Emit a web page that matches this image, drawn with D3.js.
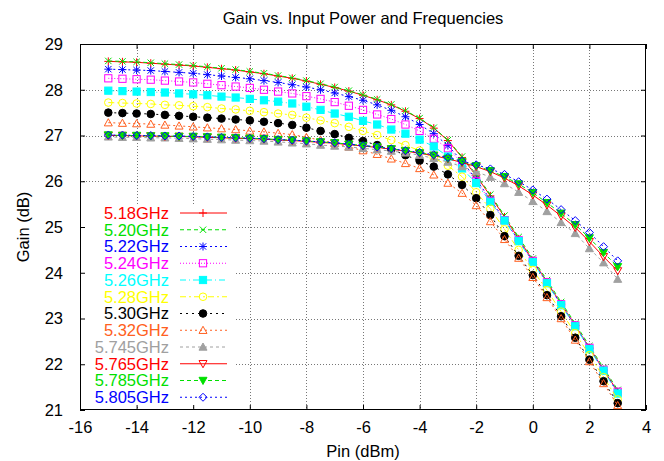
<!DOCTYPE html>
<html>
<head>
<meta charset="utf-8">
<style>
  body { margin: 0; background: #fff; }
  svg text { font-family: "Liberation Sans", Arial, Helvetica, sans-serif; }
</style>
</head>
<body>
<svg id="chart" width="664" height="461"></svg>
<script src="https://d3js.org/d3.v7.min.js"></script>
<script>
// Input power (dBm)
const pin = [-15, -14.5, -14, -13.5, -13, -12.5, -12, -11.5, -11, -10.5, -10, -9.5, -9, -8.5, -8, -7.5, -7, -6.5, -6, -5.5, -5, -4.5, -4, -3.5, -3, -2.5, -2, -1.5, -1, -0.5, 0, 0.5, 1, 1.5, 2, 2.5, 3];

// Gain (dB) per frequency
const g518 = [28.62, 28.61, 28.60, 28.58, 28.56, 28.54, 28.52, 28.49, 28.46, 28.43, 28.39, 28.35, 28.30, 28.25, 28.19, 28.12, 28.05, 27.97, 27.88, 27.78, 27.67, 27.53, 27.37, 27.16, 26.89, 26.52, 26.12, 25.68, 25.22, 24.74, 24.27, 23.80, 23.32, 22.85, 22.36, 21.88, 21.40];
const g520 = [28.63, 28.62, 28.61, 28.59, 28.57, 28.55, 28.53, 28.50, 28.47, 28.44, 28.40, 28.36, 28.31, 28.26, 28.20, 28.13, 28.06, 27.98, 27.89, 27.79, 27.68, 27.54, 27.38, 27.17, 26.90, 26.54, 26.15, 25.71, 25.25, 24.78, 24.31, 23.84, 23.36, 22.89, 22.40, 21.92, 21.44];
const g522 = [28.45, 28.44, 28.43, 28.42, 28.40, 28.38, 28.36, 28.33, 28.30, 28.27, 28.24, 28.20, 28.16, 28.11, 28.06, 28.00, 27.93, 27.85, 27.77, 27.67, 27.55, 27.41, 27.24, 27.04, 26.78, 26.44, 26.04, 25.60, 25.16, 24.70, 24.25, 23.78, 23.30, 22.84, 22.34, 21.87, 21.38];
const g524 = [28.25, 28.24, 28.23, 28.22, 28.20, 28.18, 28.16, 28.13, 28.10, 28.07, 28.04, 28.00, 27.96, 27.92, 27.86, 27.80, 27.73, 27.65, 27.56, 27.46, 27.36, 27.24, 27.10, 26.93, 26.72, 26.40, 26.00, 25.57, 25.15, 24.71, 24.26, 23.79, 23.31, 22.85, 22.36, 21.88, 21.40];
const g526 = [27.98, 27.97, 27.96, 27.95, 27.94, 27.92, 27.90, 27.88, 27.85, 27.83, 27.80, 27.77, 27.74, 27.70, 27.63, 27.56, 27.48, 27.41, 27.32, 27.24, 27.13, 27.04, 26.91, 26.76, 26.54, 26.28, 25.96, 25.55, 25.14, 24.69, 24.23, 23.77, 23.29, 22.83, 22.33, 21.86, 21.36];
const g528 = [27.72, 27.71, 27.70, 27.69, 27.67, 27.66, 27.64, 27.62, 27.59, 27.57, 27.54, 27.51, 27.48, 27.45, 27.39, 27.33, 27.27, 27.19, 27.10, 27.01, 26.90, 26.79, 26.67, 26.51, 26.34, 26.10, 25.76, 25.40, 24.95, 24.50, 24.06, 23.62, 23.15, 22.68, 22.20, 21.72, 21.23];
const g530 = [27.50, 27.49, 27.48, 27.47, 27.45, 27.43, 27.41, 27.39, 27.37, 27.35, 27.33, 27.30, 27.27, 27.23, 27.17, 27.10, 27.03, 26.95, 26.88, 26.79, 26.70, 26.57, 26.45, 26.32, 26.15, 25.92, 25.63, 25.26, 24.80, 24.37, 23.95, 23.51, 23.05, 22.58, 22.10, 21.63, 21.15];
const g532 = [27.28, 27.27, 27.26, 27.25, 27.23, 27.21, 27.19, 27.17, 27.15, 27.13, 27.10, 27.08, 27.05, 27.02, 26.96, 26.90, 26.83, 26.75, 26.67, 26.59, 26.49, 26.39, 26.28, 26.14, 25.96, 25.74, 25.47, 25.12, 24.73, 24.32, 23.90, 23.46, 23.00, 22.53, 22.06, 21.58, 21.10];
const g5745 = [26.97, 26.96, 26.96, 26.95, 26.95, 26.94, 26.93, 26.92, 26.91, 26.90, 26.89, 26.88, 26.86, 26.84, 26.82, 26.79, 26.77, 26.75, 26.72, 26.69, 26.66, 26.62, 26.57, 26.50, 26.42, 26.32, 26.21, 26.09, 25.95, 25.76, 25.56, 25.34, 25.10, 24.86, 24.53, 24.22, 23.86];
const g5765 = [27.00, 27.00, 26.99, 26.99, 26.98, 26.98, 26.97, 26.96, 26.95, 26.94, 26.93, 26.92, 26.90, 26.89, 26.87, 26.85, 26.83, 26.80, 26.77, 26.74, 26.70, 26.66, 26.61, 26.56, 26.49, 26.41, 26.32, 26.21, 26.07, 25.90, 25.70, 25.48, 25.24, 24.99, 24.68, 24.35, 24.04];
const g5785 = [27.01, 27.00, 27.00, 26.99, 26.99, 26.98, 26.98, 26.97, 26.96, 26.95, 26.94, 26.93, 26.91, 26.90, 26.88, 26.86, 26.84, 26.81, 26.78, 26.75, 26.71, 26.67, 26.62, 26.57, 26.50, 26.43, 26.34, 26.23, 26.10, 25.94, 25.75, 25.53, 25.30, 25.05, 24.76, 24.44, 24.13];
const g5805 = [27.01, 27.01, 27.00, 27.00, 26.99, 26.99, 26.98, 26.97, 26.96, 26.95, 26.94, 26.93, 26.91, 26.90, 26.88, 26.86, 26.84, 26.81, 26.78, 26.75, 26.71, 26.67, 26.63, 26.58, 26.52, 26.44, 26.36, 26.27, 26.15, 25.99, 25.81, 25.61, 25.38, 25.14, 24.88, 24.57, 24.26];

const names = ["5.18GHz", "5.20GHz", "5.22GHz", "5.24GHz", "5.26GHz", "5.28GHz", "5.30GHz", "5.32GHz", "5.745GHz", "5.765GHz", "5.785GHz", "5.805GHz"];
const gains = [g518, g520, g522, g524, g526, g528, g530, g532, g5745, g5765, g5785, g5805];

const xTicks = [-16, -14, -12, -10, -8, -6, -4, -2, 0, 2, 4];
const yTicks = [21, 22, 23, 24, 25, 26, 27, 28, 29];

// gnuplot-like styles, one per series
const colors = ["#ff0000", "#00e000", "#0000ff", "#ff00ff", "#00ffff", "#ffff00", "#000000", "#ff6020", "#a0a0a0", "#ff0000", "#00e000", "#0000ff"];
const dashes = [null, "4,3", "2,3", "1,2", "6,3,1,3", "6,3,2,3", "2,4", "2,3", "3,3", null, "4,3", "2,3"];
const markers = ["plus", "cross", "star", "box", "boxF", "circle", "circleF", "tri", "triF", "itri", "itriF", "diamond"];

const svg = d3.select("#chart");
const x = d3.scaleLinear().domain([-16, 4]).range([80, 646]);
const y = d3.scaleLinear().domain([21, 29]).range([410, 44]);
const fmt = d => String(d); // plain hyphen minus, like the original
const fs = 16.5;

// grid
const grid = svg.append("g").attr("stroke", "#777").attr("stroke-dasharray", "1,2").attr("stroke-width", 1);
grid.selectAll(".gx").data(xTicks.slice(1, -1)).join("line")
  .attr("class", "gx")
  .attr("x1", d => Math.round(x(d)) + 0.5).attr("x2", d => Math.round(x(d)) + 0.5)
  .attr("y1", y(29)).attr("y2", y(21));
grid.selectAll(".gy").data(yTicks.slice(1, -1)).join("line")
  .attr("class", "gy")
  .attr("y1", d => Math.round(y(d)) + 0.5).attr("y2", d => Math.round(y(d)) + 0.5)
  .attr("x1", x(-16)).attr("x2", x(4));

// white key background (covers grid)
svg.append("rect").attr("x", 81).attr("y", 204).attr("width", 153).attr("height", 201).attr("fill", "#fff");

// axes with inward ticks on all sides
svg.append("g").attr("transform", "translate(0,410)")
  .call(d3.axisBottom(x).tickValues(xTicks).tickFormat(fmt).tickSizeInner(-5).tickSizeOuter(0).tickPadding(11))
  .call(g => g.select(".domain").remove())
  .call(g => g.selectAll("text").attr("font-size", fs).attr("font-family", "Liberation Sans, Arial, sans-serif"));
svg.append("g").attr("transform", "translate(0,44)")
  .call(d3.axisTop(x).tickValues(xTicks).tickSizeInner(-5).tickSizeOuter(0).tickFormat(""))
  .call(g => g.select(".domain").remove());
svg.append("g").attr("transform", "translate(80,0)")
  .call(d3.axisLeft(y).tickValues(yTicks).tickFormat(fmt).tickSizeInner(-5).tickSizeOuter(0).tickPadding(17))
  .call(g => g.select(".domain").remove())
  .call(g => g.selectAll("text").attr("font-size", fs).attr("font-family", "Liberation Sans, Arial, sans-serif"));
svg.append("g").attr("transform", "translate(646,0)")
  .call(d3.axisRight(y).tickValues(yTicks).tickSizeInner(-5).tickSizeOuter(0).tickFormat(""))
  .call(g => g.select(".domain").remove());
svg.append("rect").attr("x", 80.5).attr("y", 44.5).attr("width", 565).attr("height", 365)
  .attr("fill", "none").attr("stroke", "#000");

// marker shapes
function drawMarker(g, type, color, s) {
  const sw = 1;
  if (type === "plus" || type === "star") {
    g.append("path").attr("d", `M${-s},0H${s}M0,${-s}V${s}`).attr("stroke", color).attr("stroke-width", sw);
  }
  if (type === "cross" || type === "star") {
    const k = s * 0.8;
    g.append("path").attr("d", `M${-k},${-k}L${k},${k}M${-k},${k}L${k},${-k}`).attr("stroke", color).attr("stroke-width", sw);
  }
  if (type === "box" || type === "boxF") {
    const k = s * 0.9;
    g.append("rect").attr("x", -k).attr("y", -k).attr("width", 2 * k).attr("height", 2 * k)
      .attr("fill", type === "boxF" ? color : "none").attr("stroke", color).attr("stroke-width", sw);
  }
  if (type === "circle" || type === "circleF") {
    g.append("circle").attr("r", s * 0.95)
      .attr("fill", type === "circleF" ? color : "none").attr("stroke", color).attr("stroke-width", sw);
  }
  if (type === "tri" || type === "triF") {
    g.append("path").attr("d", `M0,${-s}L${s},${s * 0.8}L${-s},${s * 0.8}Z`)
      .attr("fill", type === "triF" ? color : "none").attr("stroke", color).attr("stroke-width", sw);
  }
  if (type === "itri" || type === "itriF") {
    g.append("path").attr("d", `M0,${s}L${s},${-s * 0.8}L${-s},${-s * 0.8}Z`)
      .attr("fill", type === "itriF" ? color : "none").attr("stroke", color).attr("stroke-width", sw);
  }
  if (type === "diamond") {
    g.append("path").attr("d", `M0,${-s}L${s},0L0,${s}L${-s},0Z`)
      .attr("fill", "none").attr("stroke", color).attr("stroke-width", sw);
  }
}

const line = d3.line().x(d => x(d[0])).y(d => y(d[1]));

gains.forEach((vals, i) => {
  const pts = pin.map((p, j) => [p, vals[j]]);
  const g = svg.append("g");
  g.append("path").datum(pts).attr("d", line)
    .attr("fill", "none").attr("stroke", colors[i]).attr("stroke-width", 1)
    .attr("stroke-dasharray", dashes[i]);
  g.selectAll(".m").data(pts).join("g")
    .attr("transform", d => `translate(${x(d[0])},${y(d[1])})`)
    .each(function () { drawMarker(d3.select(this), markers[i], colors[i], 4); });
});

// key
const key = svg.append("g");
names.forEach((n, i) => {
  const ky = 213 + i * 16.75;
  key.append("text").attr("x", 169).attr("y", ky).attr("dy", "0.35em")
    .attr("text-anchor", "end").attr("font-size", fs).attr("fill", colors[i]).text(n);
  key.append("line").attr("x1", 180).attr("x2", 227).attr("y1", ky).attr("y2", ky)
    .attr("stroke", colors[i]).attr("stroke-dasharray", dashes[i]);
  drawMarker(key.append("g").attr("transform", `translate(203,${ky})`), markers[i], colors[i], 4);
});

// titles
svg.append("text").attr("x", 363).attr("y", 24).attr("text-anchor", "middle").attr("font-size", fs).text("Gain vs. Input Power and Frequencies");
svg.append("text").attr("x", 363).attr("y", 457).attr("text-anchor", "middle").attr("font-size", fs).text("Pin (dBm)");
svg.append("text").attr("transform", "translate(29,227) rotate(-90)").attr("text-anchor", "middle").attr("font-size", fs).text("Gain (dB)");
</script>
</body>
</html>
